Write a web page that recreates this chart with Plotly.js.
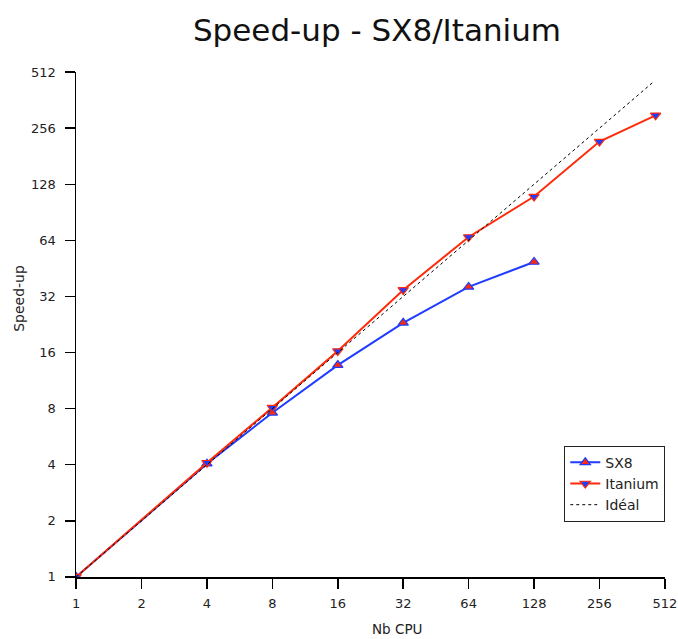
<!DOCTYPE html>
<html>
<head>
<meta charset="utf-8">
<script src="https://cdn.plot.ly/plotly-3.0.1.min.js"></script>
<style>html,body{margin:0;padding:0;background:#fff;}#chart{width:678px;height:639px;}</style>
</head>
<body>
<div id="chart"></div>
<script>
const tickVals = [1, 2, 4, 8, 16, 32, 64, 128, 256, 512];
const tickText = ["1", "2", "4", "8", "16", "32", "64", "128", "256", "512"];

const sx8Cpu = [1, 4, 8, 16, 32, 64, 128];
const sx8Speedup = [1, 4.05, 7.6, 13.7, 23.1, 36, 49];

const itaniumCpu = [1, 4, 8, 16, 32, 64, 128, 256, 464];
const itaniumSpeedup = [1, 4.1, 8.1, 16.3, 34.7, 66.7, 110, 217, 300];

const idealCpu = [1, 455];
const idealSpeedup = [1, 455];

const blue = "#1f3cff";
const red = "#ff2a0a";

const traces = [
  {
    x: sx8Cpu, y: sx8Speedup, name: "SX8", type: "scatter", mode: "lines+markers",
    line: {color: blue, width: 2},
    marker: {symbol: "triangle-up", size: 9, color: red, line: {color: blue, width: 1.2}}
  },
  {
    x: itaniumCpu, y: itaniumSpeedup, name: "Itanium", type: "scatter", mode: "lines+markers",
    line: {color: red, width: 2},
    marker: {symbol: "triangle-down", size: 9, color: blue, line: {color: red, width: 1.2}}
  },
  {
    x: idealCpu, y: idealSpeedup, name: "Idéal", type: "scatter", mode: "lines",
    line: {color: "#000", width: 1, dash: "3px,3px"}
  }
];

const eps = 0.0005;
const axisCommon = {
  type: "log",
  range: [-eps, Math.log10(512) + eps],
  tickvals: tickVals,
  ticktext: tickText,
  showgrid: false,
  zeroline: false,
  showline: true,
  linecolor: "#000",
  linewidth: 1.5,
  ticks: "outside",
  ticklen: 10,
  tickwidth: 1.5,
  tickcolor: "#000",
  tickfont: {family: "DejaVu Sans", size: 13, color: "#222"}
};

const layout = {
  width: 678, height: 639,
  margin: {l: 76, r: 13, t: 72, b: 62},
  paper_bgcolor: "#fff", plot_bgcolor: "#fff",
  font: {family: "DejaVu Sans", color: "#222"},
  title: {text: "Speed-up - SX8/Itanium", font: {family: "DejaVu Sans", size: 31, color: "#111"},
          x: 0.556, xanchor: "center", y: 0.953, yanchor: "middle", xref: "container", yref: "container"},
  xaxis: Object.assign({}, axisCommon, {ticklabelstandoff: 4}),
  yaxis: Object.assign({}, axisCommon, {ticklabelstandoff: 6}),
  annotations: [
    {text: "Nb CPU", xref: "paper", yref: "paper", x: 0.545, y: -0.103,
     xanchor: "center", yanchor: "middle", showarrow: false,
     font: {family: "DejaVu Sans", size: 13.5, color: "#222"}},
    {text: "Speed-up", xref: "paper", yref: "paper", x: -0.097, y: 0.5525,
     xanchor: "center", yanchor: "middle", showarrow: false, textangle: -90,
     font: {family: "DejaVu Sans", size: 14, color: "#222"}}
  ],
  showlegend: true,
  legend: {
    x: 0.829, y: 0.26, xanchor: "left", yanchor: "top",
    bgcolor: "#fff", bordercolor: "#222", borderwidth: 1,
    font: {family: "DejaVu Sans", size: 14, color: "#222"},
    itemwidth: 30, tracegroupgap: 0
  }
};

Plotly.newPlot("chart", traces, layout, {displayModeBar: false, staticPlot: true});
</script>
</body>
</html>
